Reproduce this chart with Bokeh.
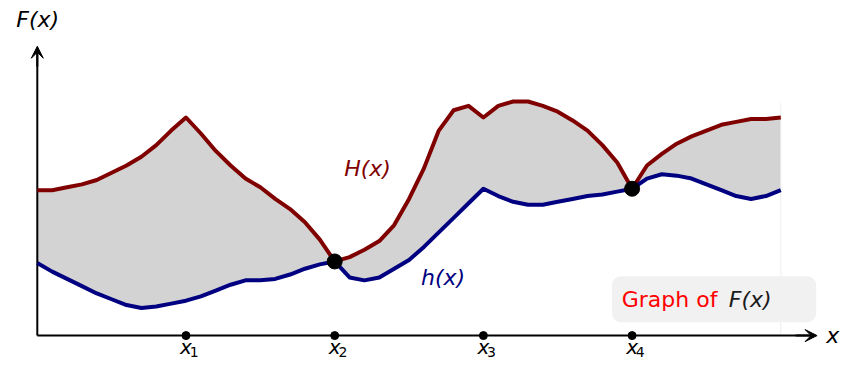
from bokeh.plotting import figure
from bokeh.models import Range1d, Arrow, VeeHead, ColumnDataSource
from bokeh.core.properties import value
from bokeh.embed import file_html
from bokeh.resources import INLINE

# ---- data ----
xs = [round(i * 0.1, 1) for i in range(51)]
H_vals = [1.00, 1.00, 1.02, 1.04, 1.07, 1.12, 1.17, 1.23, 1.31, 1.41, 1.50,
          1.39, 1.27, 1.17, 1.08, 1.02, 0.94, 0.87, 0.78, 0.66, 0.51,
          0.54, 0.59, 0.65, 0.76, 0.94, 1.15, 1.41, 1.55, 1.58, 1.50,
          1.58, 1.61, 1.61, 1.58, 1.54, 1.48, 1.41, 1.31, 1.19, 1.01,
          1.17, 1.25, 1.32, 1.37, 1.41, 1.45, 1.47, 1.49, 1.49, 1.50]
h_vals = [0.50, 0.44, 0.39, 0.34, 0.29, 0.25, 0.21, 0.19, 0.20, 0.22, 0.24,
          0.27, 0.31, 0.35, 0.38, 0.38, 0.39, 0.42, 0.46, 0.49, 0.51,
          0.40, 0.38, 0.40, 0.46, 0.52, 0.61, 0.71, 0.81, 0.91, 1.01,
          0.96, 0.92, 0.90, 0.90, 0.92, 0.94, 0.96, 0.97, 0.99, 1.01,
          1.08, 1.11, 1.10, 1.08, 1.04, 1.00, 0.96, 0.94, 0.96, 1.00]
tick_x = [1, 2, 3, 4]
tick_sub = ["1", "2", "3", "4"]
touch_x = [2, 4]
touch_y = [0.51, 1.01]

FONT = "DejaVu Sans"
W, Hh = 843, 362
UX = 148.7   # px per x unit
UY = 145.4   # px per y unit
x0 = -36.8 / UX
yaxis_px = 335.1
y_top = yaxis_px / UY

p = figure(width=W, height=Hh, output_backend="svg", toolbar_location=None,
           x_range=Range1d(x0, x0 + W / UX), y_range=Range1d(y_top - Hh / UY, y_top),
           min_border=0, outline_line_color=None)
p.axis.visible = False
p.grid.visible = False
p.background_fill_color = "white"
p.border_fill_color = "white"

src = ColumnDataSource(dict(x=xs, H=H_vals, h=h_vals))
p.varea(x="x", y1="h", y2="H", source=src, fill_color="#d3d3d3")

# faint clip line
p.segment(x0=[5.0], y0=[0.0], x1=[5.0], y1=[1.6], line_color="#eeeeee", line_width=1)

# axes
p.segment(x0=[0], y0=[0], x1=[5.2], y1=[0], line_color="black", line_width=2)
p.segment(x0=[0], y0=[0], x1=[0], y1=[1.95], line_color="black", line_width=2)
p.add_layout(Arrow(end=VeeHead(size=12, fill_color="black", line_color="black", line_width=1),
                   x_start=5.1, y_start=0, x_end=5.244, y_end=0,
                   line_color="black", line_width=2))
p.add_layout(Arrow(end=VeeHead(size=12, fill_color="black", line_color="black", line_width=1),
                   x_start=0, y_start=1.85, x_end=0, y_end=1.99,
                   line_color="black", line_width=2))

# curves
p.line(x="x", y="H", source=src, line_color="#800000", line_width=4, line_join="round")
p.line(x="x", y="h", source=src, line_color="#000080", line_width=4, line_join="round")

# touch points
p.scatter(x=touch_x, y=touch_y, size=15, fill_color="black", line_color="black")

# ticks
p.scatter(x=tick_x, y=[0] * 4, size=8, fill_color="black", line_color="black")
p.text(x=tick_x, y=[-0.075] * 4, text=["x"] * 4, text_font=value(FONT),
       text_font_style="italic", text_font_size="20px", text_align="center",
       text_baseline="middle", text_color="black")
p.text(x=[t + 0.055 for t in tick_x], y=[-0.112] * 4, text=tick_sub, text_font=value(FONT),
       text_font_size="14px", text_align="center", text_baseline="middle",
       text_color="black")

# axis labels
p.text(x=[0.003], y=[2.172], text=["F(x)"], text_font=value(FONT), text_font_style="italic",
       text_font_size="22px", text_align="center", text_baseline="middle", text_color="black")
p.text(x=[5.35], y=[0.0], text=["x"], text_font=value(FONT), text_font_style="italic",
       text_font_size="22px", text_align="center", text_baseline="middle", text_color="black")

# curve labels
p.text(x=[2.221], y=[1.149], text=["H(x)"], text_font=value(FONT), text_font_style="italic",
       text_font_size="22px", text_align="center", text_baseline="middle", text_color="#800000")
p.text(x=[2.729], y=[0.403], text=["h(x)"], text_font=value(FONT), text_font_style="italic",
       text_font_size="22px", text_align="center", text_baseline="middle", text_color="#000080")

# legend box
p.quad(left=[3.865], right=[5.238], top=[0.409], bottom=[0.092], fill_color="#f1f1f1",
       line_color=None, border_radius=9)
p.text(x=[3.93], y=[0.246], text=["Graph of"], text_font=value(FONT), text_font_size="22px",
       text_align="left", text_baseline="middle", text_color="#ff0000")
p.text(x=[4.65], y=[0.246], text=["F(x)"], text_font=value(FONT), text_font_style="italic",
       text_font_size="22px", text_align="left", text_baseline="middle", text_color="#1a1a1a")

open("out.html", "w").write(file_html(p, INLINE))
